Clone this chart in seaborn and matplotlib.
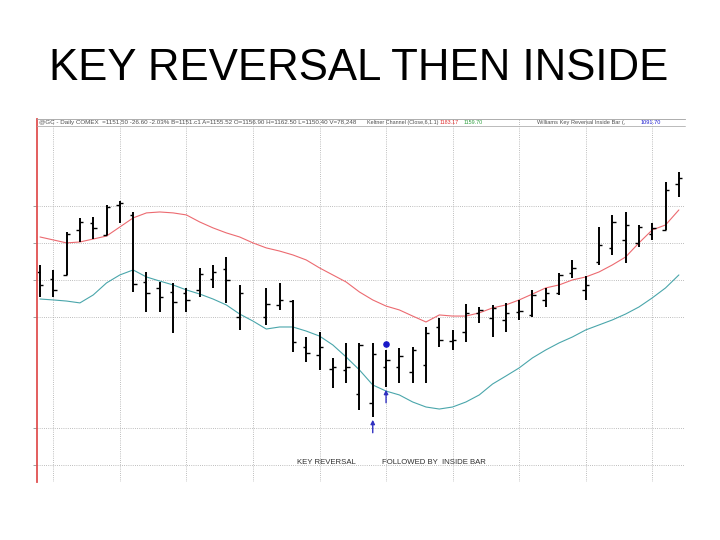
import numpy as np
import pandas as pd
import matplotlib.pyplot as plt
from matplotlib.lines import Line2D
import seaborn as sns

sns.set_theme(style="white")
plt.rcParams["font.family"] = ["Liberation Sans", "DejaVu Sans"]

nan = np.nan

# daily OHLC bars (one slot per trading day, slot 16 is a holiday)
opens = [1124.3, 1120.5, 1122.7, 1147.0, 1150.8, 1144.3, 1160.5, 1155.1, 1118.9, 1115.7,
         1113.5, 1113.0, 1114.6, 1120.5, 1125.9, 1100.0, nan, 1100.0, 1106.5, 1108.6,
         1083.8, 1079.5, 1071.9, 1071.4, 1058.4, 1053.6, 1073.0, 1073.0, 1070.3, 1074.1,
         1094.6, 1087.0, 1091.9, 1102.2, 1099.5, 1098.4, 1102.7, 1101.1, 1109.2, 1113.0,
         1123.8, 1114.6, 1129.7, 1137.3, 1141.6, 1140.0, 1145.0, 1147.0, 1171.8]
highs = [1128.1, 1125.4, 1145.9, 1153.5, 1154.0, 1160.5, 1162.6, 1156.7, 1124.3, 1118.9,
         1118.4, 1115.7, 1126.5, 1128.1, 1132.4, 1117.3, nan, 1115.7, 1118.4, 1109.2,
         1089.2, 1091.9, 1077.9, 1086.0, 1086.0, 1086.0, 1082.2, 1083.3, 1083.8, 1094.6,
         1099.5, 1093.0, 1107.0, 1105.4, 1106.5, 1107.6, 1109.2, 1114.6, 1115.7, 1123.8,
         1130.8, 1122.1, 1148.6, 1155.1, 1156.7, 1149.7, 1150.8, 1172.9, 1178.3]
lows = [1110.8, 1110.8, 1122.7, 1140.5, 1142.1, 1144.3, 1150.8, 1113.5, 1102.7, 1102.7,
        1091.4, 1102.7, 1110.8, 1115.7, 1107.6, 1093.0, nan, 1095.7, 1103.8, 1081.1,
        1075.7, 1071.4, 1061.7, 1064.4, 1049.8, 1046.0, 1062.2, 1064.4, 1064.4, 1064.4,
        1083.8, 1082.2, 1086.5, 1096.8, 1089.2, 1091.9, 1098.4, 1100.0, 1105.4, 1111.9,
        1121.1, 1109.2, 1128.1, 1133.5, 1129.2, 1137.8, 1141.6, 1147.0, 1164.8]
closes = [1117.3, 1114.6, 1144.8, 1151.3, 1148.1, 1159.4, 1161.6, 1117.8, 1113.0, 1110.8,
          1108.1, 1109.2, 1123.2, 1124.3, 1120.0, 1113.0, nan, 1107.0, 1109.2, 1086.5,
          1080.6, 1083.8, 1073.0, 1073.0, 1085.0, 1080.0, 1076.8, 1078.9, 1082.2, 1091.4,
          1087.6, 1087.6, 1102.2, 1103.8, 1104.9, 1102.2, 1103.2, 1111.9, 1113.0, 1122.7,
          1126.5, 1117.3, 1138.9, 1151.3, 1149.7, 1148.6, 1148.1, 1168.6, 1175.1]

# Keltner channel (Close,6,1.1)
kc_upper = [1143.2, 1141.6, 1140.0, 1140.5, 1142.1, 1143.7, 1148.6, 1153.5, 1156.2, 1156.7,
            1156.2, 1155.1, 1151.3, 1148.1, 1145.4, 1143.2, 1140.0, 1137.3, 1135.6, 1133.5,
            1130.8, 1126.5, 1122.7, 1118.9, 1113.5, 1109.2, 1105.9, 1103.8, 1100.5, 1097.3,
            1101.1, 1100.5, 1100.5, 1102.2, 1104.9, 1106.5, 1109.2, 1112.4, 1115.7, 1117.3,
            1120.0, 1121.6, 1124.3, 1128.1, 1132.4, 1140.0, 1147.0, 1149.7, 1157.8]
kc_lower = [1109.7, 1109.2, 1108.6, 1107.6, 1111.9, 1118.4, 1122.7, 1125.4, 1121.6, 1119.4,
            1117.3, 1114.6, 1112.4, 1109.7, 1106.5, 1101.6, 1097.8, 1093.5, 1094.6, 1094.6,
            1092.4, 1089.7, 1084.9, 1078.4, 1071.4, 1063.3, 1060.0, 1057.9, 1054.1, 1051.4,
            1050.3, 1051.4, 1054.1, 1057.9, 1063.8, 1068.1, 1072.5, 1077.9, 1082.2, 1086.0,
            1089.2, 1093.0, 1095.7, 1098.4, 1101.6, 1105.4, 1110.3, 1115.7, 1122.7]

key_reversal_bar = 25
inside_bar = 26

grid_prices = [1020, 1040, 1100, 1120, 1140, 1160]
week_starts = list(range(1, 49, 5))

df = pd.DataFrame({"bar": np.arange(len(opens)), "open": opens, "high": highs,
                   "low": lows, "close": closes, "upper": kc_upper, "lower": kc_lower})

fig = plt.figure(figsize=(7.2, 5.4), dpi=100)
ax = fig.add_axes([37 / 720, 58 / 540, 648 / 720, 363 / 540])

sns.lineplot(data=df, x="bar", y="upper", color="#ec6a70", lw=0.8, ax=ax)
sns.lineplot(data=df, x="bar", y="lower", color="#4aa6ab", lw=0.8, ax=ax)

ax.vlines(df["bar"], df["low"], df["high"], color="black", lw=1.4)
ax.hlines(df["open"], df["bar"] - 0.26, df["bar"], color="black", lw=1.0)
ax.hlines(df["close"], df["bar"], df["bar"] + 0.26, color="black", lw=1.0)

blue = "#1818c8"
for b in [key_reversal_bar, inside_bar]:
    lo = df.loc[b, "low"]
    ax.annotate("", xy=(b, lo - 1.5), xytext=(b, lo - 8.5),
                arrowprops=dict(arrowstyle="-|>", color="#3030c0", lw=1.0,
                                mutation_scale=6, shrinkA=0, shrinkB=0))
ax.scatter([inside_bar], [df.loc[inside_bar, "high"] + 3.2], s=14, color=blue, zorder=5)

ax.set_xlim(-0.225, 48.46)
ax.set_ylim(1010.9, 1206.9)
ax.set_xticks(week_starts)
ax.set_yticks(grid_prices)
ax.set_xticklabels([])
ax.set_yticklabels([])
ax.set_xlabel("")
ax.set_ylabel("")
ax.grid(True, color="#a8a8a8", linestyle=(0, (1, 1.6)), lw=0.6)
ax.tick_params(axis="y", left=True, length=3, color="#909090", width=0.6)
ax.tick_params(axis="x", bottom=False, length=0)
for s in ["right", "bottom"]:
    ax.spines[s].set_visible(False)
ax.spines["left"].set_color("#e05050")
ax.spines["left"].set_linewidth(1.3)
ax.spines["top"].set_color("#a0a0a0")
ax.spines["top"].set_linewidth(0.6)

fig.add_artist(Line2D([37 / 720, 685 / 720], [1 - 125.5 / 540] * 2,
                      color="#b0b0b0", lw=0.6, transform=fig.transFigure))

hy = 1 - 122.5 / 540
hdr = [
    (39, "@GC - Daily COMEX  =1151.50 -26.60 -2.03% B=1151.c1 A=1155.52 O=1156.90 "
         "H=1162.50 L=1150.40 V=78,248", "#505050", 4.5),
    (367, "Keltner Channel (Close,6,1.1)", "#505050", 3.9),
    (440, "1183.17", "#e03030", 3.9),
    (464, "1159.70", "#30a040", 3.9),
    (537, "Williams Key Reversal Inside Bar (,", "#505050", 4.1),
    (641, "1091.70", "#2020d0", 4.1),
]
for x, t, c, fs in hdr:
    fig.text(x / 720, hy, t, fontsize=fs, color=c, ha="left", va="center")

fig.text(358.5 / 720, 1 - 68 / 540, "KEY REVERSAL THEN INSIDE", fontsize=31.5,
         color="black", ha="center", va="center")

fig.text(326 / 720, 1 - 462.5 / 540, "KEY REVERSAL", fontsize=5.6, color="#303030",
         ha="center", va="center")
fig.text(434 / 720, 1 - 462.5 / 540, "FOLLOWED BY  INSIDE BAR", fontsize=5.6,
         color="#303030", ha="center", va="center")

fig.savefig("out.png", dpi=100)
